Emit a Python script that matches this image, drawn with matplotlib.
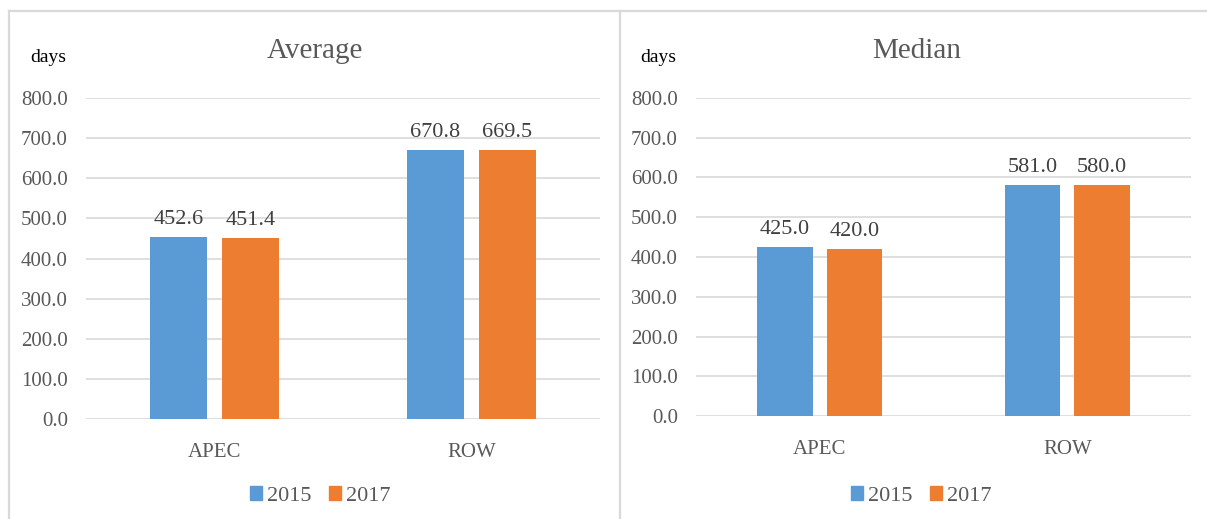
import numpy as np
import matplotlib
matplotlib.use("Agg")
import matplotlib.pyplot as plt
from matplotlib.lines import Line2D
from matplotlib.patches import Patch

plt.rcParams["font.family"] = ["Liberation Serif", "DejaVu Serif"]

categories = ["APEC", "ROW"]
years = ["2015", "2017"]
avg_2015 = [452.6, 670.8]
avg_2017 = [451.4, 669.5]
med_2015 = [425.0, 581.0]
med_2017 = [420.0, 580.0]
yticks = [0, 100, 200, 300, 400, 500, 600, 700, 800]

blue = "#5B9BD5"
orange = "#ED7D31"
grey_text = "#595959"
grid_col = "#D9D9D9"

W, H = 1207, 519
fig = plt.figure(figsize=(W / 100, H / 100), dpi=100)


def px(x0, y0, x1, y1):
    # pixel box (top-left origin) -> figure fraction rect
    return [x0 / W, 1 - y1 / H, (x1 - x0) / W, (y1 - y0) / H]


def panel(rect, title, s1, s2, title_x, days_x, legend_x):
    ax = fig.add_axes(rect)
    x = np.arange(len(categories))
    w = 0.225
    off = 0.14
    b1 = ax.bar(x - off, s1, w, color=blue, zorder=3)
    b2 = ax.bar(x + off, s2, w, color=orange, zorder=3)
    for bars, vals in ((b1, s1), (b2, s2)):
        for b, v in zip(bars, vals):
            ax.annotate(f"{v:.1f}", (b.get_x() + b.get_width() / 2, v),
                        xytext=(0, 6), textcoords="offset points",
                        ha="center", va="bottom", fontsize=16, color="#404040")
    ax.set_xlim(-0.5, 1.5)
    ax.set_ylim(0, 800)
    ax.set_yticks(yticks)
    ax.set_yticklabels([f"{t:.1f}" for t in yticks])
    ax.set_xticks(x)
    ax.set_xticklabels(categories)
    ax.tick_params(axis="both", length=0, labelsize=15, colors=grey_text)
    ax.tick_params(axis="y", pad=13)
    ax.tick_params(axis="x", pad=17)
    ax.grid(axis="y", color=grid_col, linewidth=1.2, zorder=0)
    for s in ax.spines.values():
        s.set_visible(False)
    ax.set_axisbelow(True)

    fig.text(title_x / W, 1 - 51 / H, title, ha="center", va="center",
             fontsize=21, color=grey_text)
    fig.text(days_x / W, 1 - 57 / H, "days", ha="center", va="center",
             fontsize=14, color="black")
    handles = [Patch(color=blue), Patch(color=orange)]
    fig.legend(handles, years, loc="center", bbox_to_anchor=(legend_x / W, 1 - 496 / H),
               ncol=2, frameon=False, fontsize=16, labelcolor=grey_text,
               handlelength=0.55, handleheight=0.55, handletextpad=0.2,
               columnspacing=0.8)
    return ax


panel(px(86, 98, 600, 419), "Average", avg_2015, avg_2017, 315, 48, 320)
panel(px(696, 98, 1191, 416), "Median", med_2015, med_2017, 917, 658, 921)

# panel borders
lw = 1.6
fig.add_artist(Line2D([9 / W, 9 / W], [0, 1 - 11 / H], color=grid_col, lw=lw))
fig.add_artist(Line2D([9 / W, 1], [1 - 11 / H, 1 - 11 / H], color=grid_col, lw=lw))
fig.add_artist(Line2D([620 / W, 620 / W], [0, 1 - 11 / H], color=grid_col, lw=lw))

fig.savefig("out.png", dpi=100)
